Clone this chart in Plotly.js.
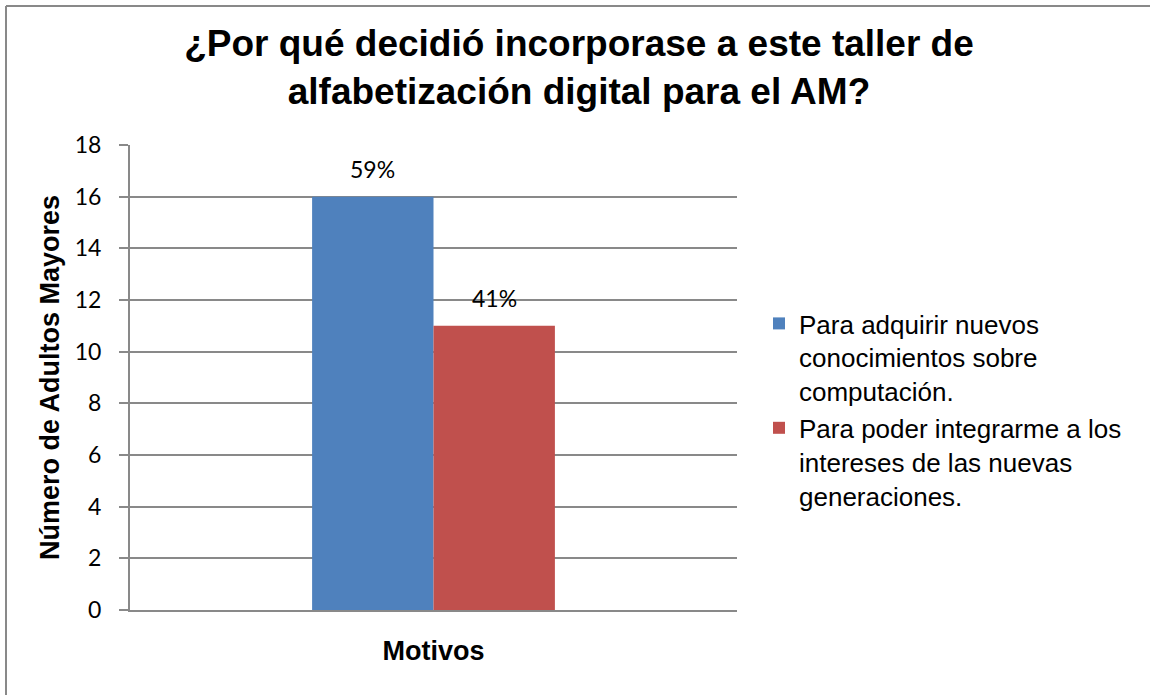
<!DOCTYPE html>
<html>
<head>
<meta charset="utf-8">
<script src="https://cdn.plot.ly/plotly-3.0.1.min.js"></script>
<style>
  html, body { margin: 0; padding: 0; background: #fff; }
  #chart { width: 1150px; height: 695px; }
</style>
</head>
<body>
<div id="chart"></div>
<script>
// ---- data ----
const categories = ["Motivos"];
const seriesNames = [
  "Para adquirir nuevos<br>conocimientos sobre<br>computación.",
  "Para poder integrarme a los<br>intereses de las nuevas<br>generaciones."
];
const adquirirValues = [16];
const integrarmeValues = [11];
const dataLabels = [["59%"], ["41%"]];
const yTickValues = [0, 2, 4, 6, 8, 10, 12, 14, 16, 18];

// ---- styling ----
const colors = ["#4F81BD", "#C0504D"];
const gray = "#898989";
const W = 1150, H = 695;
const margin = {l: 130, r: 413, t: 145, b: 85};
const plotW = W - margin.l - margin.r;
const plotH = H - margin.t - margin.b;
const bargap = 0.6;

const seriesValues = [adquirirValues, integrarmeValues];

const traces = seriesValues.map((vals, i) => ({
  type: "bar",
  name: seriesNames[i],
  x: categories,
  y: vals,
  marker: {color: colors[i], line: {width: 0}},
  legendgroup: "g" + i,
  hoverinfo: "y"
}));

// data labels above each bar, offset to the bar's center within the group
const nS = seriesValues.length;
const barPx = (1 - bargap) / nS * plotW / categories.length;
const annotations = [];
seriesValues.forEach((vals, i) => {
  vals.forEach((v, j) => {
    annotations.push({
      x: categories[j], y: v, xref: "x", yref: "y",
      text: dataLabels[i][j], showarrow: false,
      xanchor: "center", yanchor: "bottom",
      xshift: (i - (nS - 1) / 2) * barPx,
      yshift: 12,
      font: {family: "Lato, 'Open Sans', sans-serif", size: 23, color: "#000"}
    });
  });
});

// border of the chart area (top and left edges)
const px2x = p => (p - margin.l) / plotW;
const py2y = p => (H - margin.b - p) / plotH;
const shapes = [
  {type: "line", xref: "paper", yref: "paper", x0: px2x(6), x1: px2x(1150), y0: py2y(6), y1: py2y(6),
   line: {color: gray, width: 2}},
  {type: "line", xref: "paper", yref: "paper", x0: px2x(6), x1: px2x(6), y0: py2y(6), y1: py2y(695),
   line: {color: gray, width: 2}}
];

const layout = {
  width: W, height: H,
  margin: margin,
  paper_bgcolor: "#fff",
  plot_bgcolor: "#fff",
  barmode: "group",
  bargap: bargap,
  bargroupgap: 0,
  font: {family: "'Liberation Sans', Arial, sans-serif", color: "#000"},
  title: {
    text: "<b>¿Por qué decidió incorporase a este taller de<br>alfabetización digital para el AM?</b>",
    font: {family: "'Liberation Sans', Arial, sans-serif", size: 37, color: "#000"},
    xref: "container", x: 579 / W, xanchor: "center",
    yref: "container", y: 1 - 56 / H, yanchor: "top"
  },
  xaxis: {
    type: "category",
    showticklabels: false,
    ticks: "",
    showgrid: false,
    showline: true, linecolor: gray, linewidth: 2,
    zeroline: false,
    fixedrange: true,
    title: {text: "<b>Motivos</b>", font: {size: 27, color: "#000"}, standoff: 30}
  },
  yaxis: {
    range: [0, 18],
    tickvals: yTickValues,
    ticktext: yTickValues.map(String),
    ticks: "outside", ticklen: 9, tickcolor: gray, tickwidth: 2,
    ticklabelstandoff: 13,
    tickfont: {family: "Lato, 'Open Sans', sans-serif", size: 23, color: "#000"},
    showgrid: true, gridcolor: gray, gridwidth: 2,
    showline: true, linecolor: gray, linewidth: 2,
    zeroline: false,
    fixedrange: true,
    title: {text: "<b>Número de Adultos Mayores</b>", font: {size: 27, color: "#000"}, standoff: 7}
  },
  showlegend: true,
  legend: {
    x: px2x(759), xanchor: "left",
    y: py2y(300), yanchor: "top",
    valign: "top",
    font: {family: "'Liberation Sans', Arial, sans-serif", size: 26, color: "#000"},
    tracegroupgap: 18,
    bgcolor: "rgba(0,0,0,0)",
    traceorder: "normal"
  },
  annotations: annotations,
  shapes: shapes
};

Plotly.newPlot("chart", traces, layout, {displayModeBar: false, staticPlot: true});
</script>
</body>
</html>
